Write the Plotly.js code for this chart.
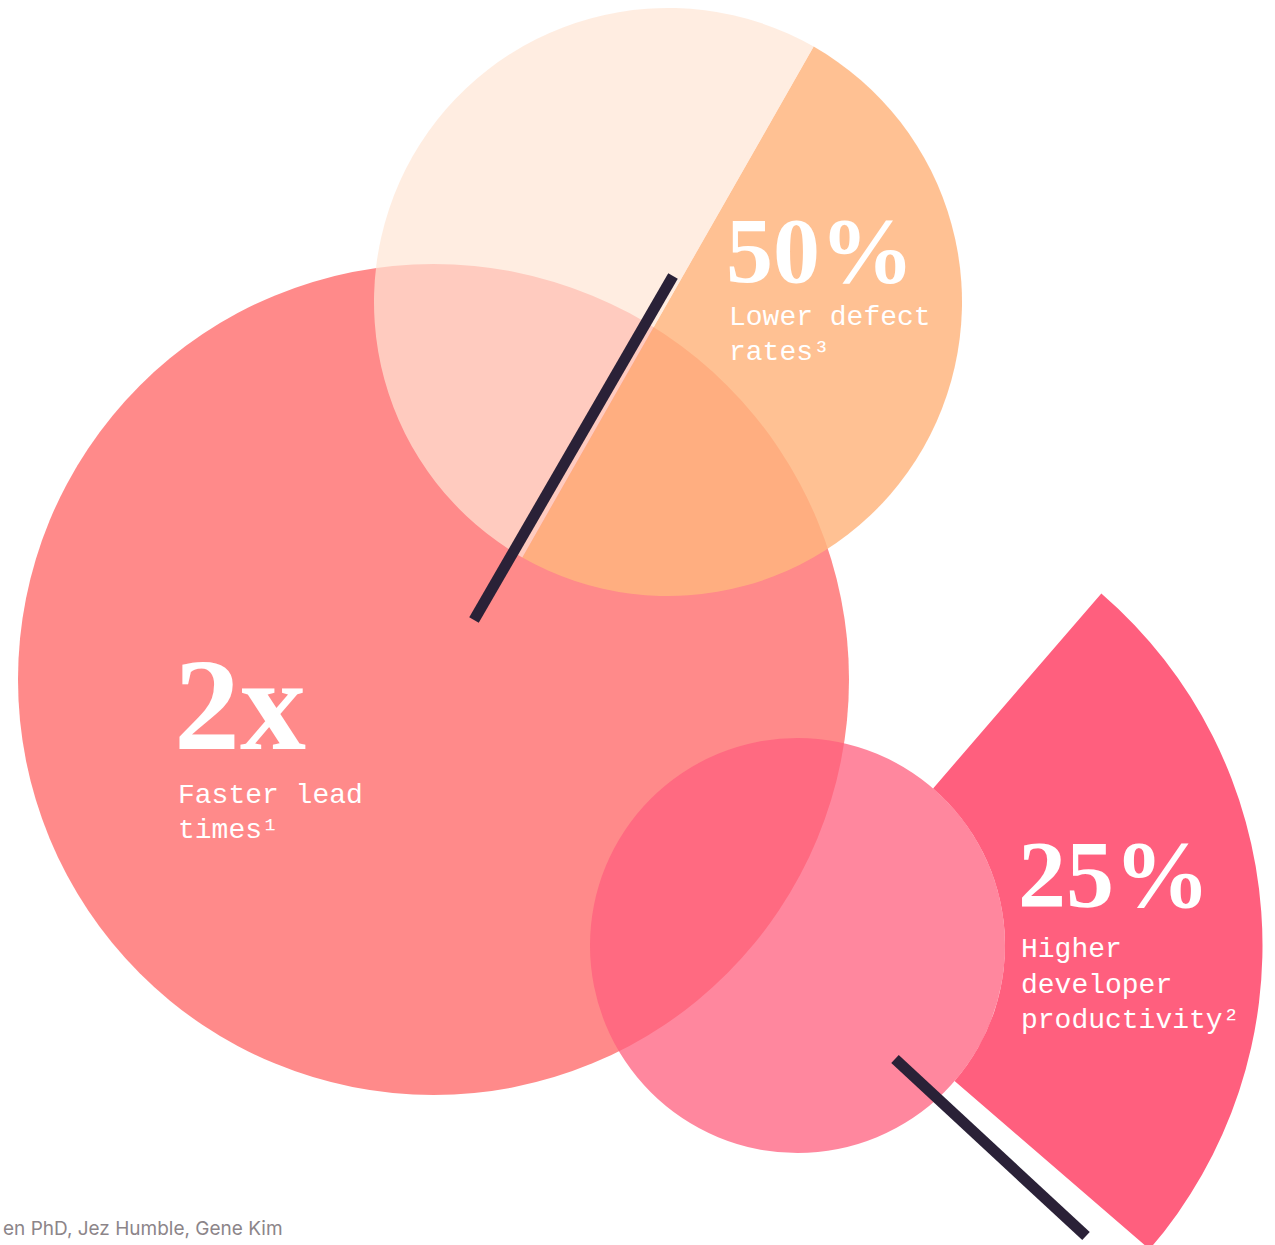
<!DOCTYPE html>
<html>
<head>
<meta charset="utf-8">
<script src="https://cdn.plot.ly/plotly-3.0.1.min.js"></script>
<style>
  html, body { margin: 0; padding: 0; overflow: hidden; background: #ffffff; }
  #chart { width: 1275px; height: 1420px; }
</style>
</head>
<body>
<div id="chart"></div>
<script>
// ---------- data ----------
const statValues = ['2x', '50%', '25%'];
const statLabels = [
  ['Faster lead', 'times¹'],
  ['Lower defect', 'rates³'],
  ['Higher', 'developer', 'productivity²']
];
const defectLabels = ['Lower defect rates', 'Remaining'];
const defectShare = [50, 50];
const productivityLabels = ['Higher developer productivity', 'Remaining'];
const productivityShare = [25, 75];
const sourceText = 'en PhD, Jez Humble, Gene Kim';

// ---------- layout geometry (pixel space) ----------
const W = 1275, H = 1420;
const bigCircle = { cx: 433.5, cy: 679.5, r: 415.5, color: '#FF8A8A' };
const topPie = { cx: 668, cy: 302, r: 294, rotation: 29.7 };
const botPie = { cx: 797.5, cy: 945.5, r: 465, rotation: 40.8 };
const smallCircle = { cx: 797.5, cy: 945.5, r: 207.5, color: 'rgba(255,95,126,0.75)' };

function pieDomain(p) {
  return {
    x: [(p.cx - p.r) / W, (p.cx + p.r) / W],
    y: [1 - (p.cy + p.r) / H, 1 - (p.cy - p.r) / H]
  };
}

const traces = [
  {
    type: 'pie',
    labels: defectLabels,
    values: defectShare,
    sort: false,
    direction: 'clockwise',
    rotation: topPie.rotation,
    domain: pieDomain(topPie),
    marker: { colors: ['rgba(255,181,126,0.84)', 'rgba(255,230,213,0.715)'], line: { width: 0 } },
    textinfo: 'none',
    hoverinfo: 'none',
    showlegend: false
  },
  {
    type: 'pie',
    labels: productivityLabels,
    values: productivityShare,
    sort: false,
    direction: 'clockwise',
    rotation: botPie.rotation,
    hole: smallCircle.r / botPie.r,
    domain: pieDomain(botPie),
    marker: { colors: ['#FF5F7E', 'rgba(0,0,0,0)'], line: { width: 0 } },
    textinfo: 'none',
    hoverinfo: 'none',
    showlegend: false
  }
];

function circleShape(c) {
  return {
    type: 'circle', xref: 'x', yref: 'y', layer: 'below',
    x0: c.cx - c.r, x1: c.cx + c.r, y0: c.cy - c.r, y1: c.cy + c.r,
    fillcolor: c.color, line: { width: 0 }
  };
}
function barShape(x0, y0, x1, y1) {
  return {
    type: 'line', xref: 'x', yref: 'y', layer: 'above',
    x0: x0, y0: y0, x1: x1, y1: y1,
    line: { color: '#2A2137', width: 11 }
  };
}

const shapes = [
  circleShape(bigCircle),
  circleShape(smallCircle),
  barShape(673, 276, 474, 620),
  barShape(895, 1059, 1086, 1236)
];

const serif = 'Liberation Serif, DejaVu Serif, serif';
const mono = 'Liberation Mono, DejaVu Sans Mono, monospace';

const statPos = [
  { x: 172, y: 704, size: 132, lines: [795, 830] },
  { x: 724, y: 250, size: 94, lines: [317, 352] },
  { x: 1016, y: 874, size: 96, lines: [949, 985, 1020] }
];

const annotations = [];
statValues.forEach(function (v, i) {
  const p = statPos[i];
  annotations.push({
    text: '<b>' + v + '</b>', x: p.x, y: p.y, xref: 'x', yref: 'y',
    xanchor: 'left', yanchor: 'middle', showarrow: false,
    font: { family: serif, size: p.size, color: '#FFFFFF' }
  });
  statLabels[i].forEach(function (t, j) {
    annotations.push({
      text: t, x: p.x + (i === 0 ? 4 : 3), y: p.lines[j], xref: 'x', yref: 'y',
      xanchor: 'left', yanchor: 'middle', showarrow: false,
      font: { family: mono, size: 28, color: '#FFFFFF' }
    });
  });
});
annotations.push({
  text: sourceText, x: 0.5, y: 1228, xref: 'x', yref: 'y',
  xanchor: 'left', yanchor: 'middle', showarrow: false,
  font: { family: 'Inter, Roboto, sans-serif', size: 19, color: '#8C8589' }
});

const layout = {
  width: W, height: H,
  margin: { l: 0, r: 0, t: 0, b: 0, pad: 0 },
  paper_bgcolor: '#FFFFFF', plot_bgcolor: 'rgba(0,0,0,0)',
  xaxis: { range: [0, W], visible: false, fixedrange: true },
  yaxis: { range: [H, 0], visible: false, fixedrange: true },
  shapes: shapes,
  annotations: annotations,
  showlegend: false
};

Plotly.newPlot('chart', traces, layout, { staticPlot: true, displayModeBar: false });
</script>
</body>
</html>
